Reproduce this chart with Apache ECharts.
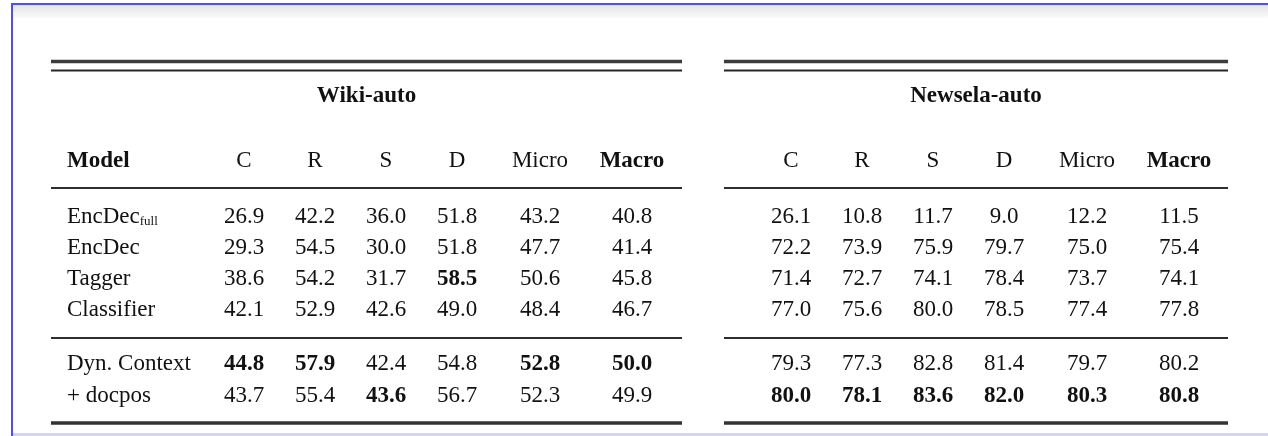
<!DOCTYPE html>
<html><head><meta charset="utf-8">
<script src="https://cdn.jsdelivr.net/npm/echarts@6/dist/echarts.min.js"></script>
<style>html,body{margin:0;padding:0;background:#fff;overflow:hidden}#c{width:1268px;height:436px}</style>
</head><body><div id="c"></div>
<script>
// ---- data ----
const datasets = ['Wiki-auto', 'Newsela-auto'];
const metrics = ['C', 'R', 'S', 'D', 'Micro', 'Macro'];
const boldMetrics = ['Macro'];
const models = ['EncDec_full', 'EncDec', 'Tagger', 'Classifier', 'Dyn. Context', '+ docpos'];
const wikiValues = [
  [26.9, 42.2, 36.0, 51.8, 43.2, 40.8],
  [29.3, 54.5, 30.0, 51.8, 47.7, 41.4],
  [38.6, 54.2, 31.7, 58.5, 50.6, 45.8],
  [42.1, 52.9, 42.6, 49.0, 48.4, 46.7],
  [44.8, 57.9, 42.4, 54.8, 52.8, 50.0],
  [43.7, 55.4, 43.6, 56.7, 52.3, 49.9]
];
const newselaValues = [
  [26.1, 10.8, 11.7, 9.0, 12.2, 11.5],
  [72.2, 73.9, 75.9, 79.7, 75.0, 75.4],
  [71.4, 72.7, 74.1, 78.4, 73.7, 74.1],
  [77.0, 75.6, 80.0, 78.5, 77.4, 77.8],
  [79.3, 77.3, 82.8, 81.4, 79.7, 80.2],
  [80.0, 78.1, 83.6, 82.0, 80.3, 80.8]
];
// bold cells as [row, col]
const wikiBold = [[2, 3], [4, 0], [4, 1], [4, 4], [4, 5], [5, 2]];
const newselaBold = [[5, 0], [5, 1], [5, 2], [5, 3], [5, 4], [5, 5]];

// ---- layout (pixels on a page-sized value scale) ----
const FONT = '"Liberation Serif", "Times New Roman", serif';
const FS = 23;
const tables = [
  { x0: 51, x1: 682, cols: [244, 315, 386, 457, 540, 632], values: wikiValues, bold: wikiBold },
  { x0: 724, x1: 1228, cols: [791, 862, 933, 1004, 1087, 1179], values: newselaValues, bold: newselaBold }
];
const modelX = 67;
const titleY = 96, headerY = 161;
const rowY = [217, 248, 279, 310, 364, 396];
const rules = [ // [y, lineWidth, color]
  [61.5, 3.5, '#3c3c3c'], [70.5, 2, '#262626'], [188, 2.2, '#2e2e2e'], [338, 2.2, '#2e2e2e'], [423, 3.5, '#333']
];
const TXT = '#111';

const texts = [];
function addText(x, y, text, opts) {
  texts.push({ value: [x, y], label: Object.assign({ formatter: text, align: 'center', fontWeight: 'normal' }, opts || {}) });
}
tables.forEach((t, ti) => {
  addText((t.x0 + t.x1) / 2, titleY, datasets[ti], { fontWeight: 'bold' });
  metrics.forEach((m, ci) => addText(t.cols[ci], headerY, m, { fontWeight: boldMetrics.includes(m) ? 'bold' : 'normal' }));
  t.values.forEach((row, ri) => row.forEach((v, ci) => {
    const b = t.bold.some(p => p[0] === ri && p[1] === ci);
    addText(t.cols[ci], rowY[ri], v.toFixed(1), { fontWeight: b ? 'bold' : 'normal' });
  }));
});
addText(modelX, headerY, 'Model', { align: 'left', fontWeight: 'bold' });
models.forEach((m, ri) => {
  const parts = m.split('_');
  const f = parts.length > 1 ? '{a|' + parts[0] + '}{s|' + parts[1] + '}' : m;
  addText(modelX, rowY[ri], f, { align: 'left' });
});

const ruleData = [];
tables.forEach(t => rules.forEach(r => ruleData.push([t.x0, t.x1, r[0], r[1], r[2]])));

const chart = echarts.init(document.getElementById('c'), null, { renderer: 'canvas' });
chart.setOption({
  animation: false,
  backgroundColor: '#fff',
  grid: { left: 0, right: 0, top: 0, bottom: 0 },
  xAxis: { type: 'value', min: 0, max: 1268, show: false },
  yAxis: { type: 'value', min: 0, max: 436, inverse: true, show: false },
  graphic: [
    { type: 'rect', shape: { x: 13, y: 5, width: 1255, height: 13 }, style: { fill: new echarts.graphic.LinearGradient(0, 0, 0, 1, [{ offset: 0, color: '#e4e4e4' }, { offset: 1, color: '#fbfbfb' }]) }, z: 1 },
    { type: 'rect', shape: { x: 11, y: 3, width: 1257, height: 2 }, style: { fill: '#4d4dff' }, z: 2 },
    { type: 'rect', shape: { x: 11, y: 3, width: 2, height: 433 }, style: { fill: '#4d4dff' }, z: 2 },
    { type: 'rect', shape: { x: 13, y: 433, width: 1255, height: 3 }, style: { fill: '#d4d4f4' }, z: 2 }
  ],
  series: [
    {
      type: 'custom',
      coordinateSystem: 'cartesian2d',
      data: ruleData,
      encode: { x: [0, 1], y: 2 },
      renderItem: function (params, api) {
        const a = api.coord([api.value(0), api.value(2)]);
        const b = api.coord([api.value(1), api.value(2)]);
        const d = ruleData[params.dataIndex];
        return { type: 'line', shape: { x1: a[0], y1: a[1], x2: b[0], y2: b[1] }, style: { stroke: d[4], lineWidth: d[3] } };
      },
      silent: true
    },
    {
      type: 'scatter',
      data: texts,
      symbolSize: 1,
      itemStyle: { color: 'rgba(0,0,0,0)' },
      silent: true,
      label: {
        show: true, position: 'inside', color: TXT, fontFamily: FONT, fontSize: FS, verticalAlign: 'middle',
        textBorderWidth: 0, textShadowBlur: 0, opacity: 1,
        rich: {
          a: { fontFamily: FONT, fontSize: FS, color: TXT, textBorderWidth: 0 },
          s: { fontFamily: FONT, fontSize: 13, color: TXT, textBorderWidth: 0, padding: [10, 0, 0, 0] }
        }
      }
    }
  ]
});
</script></body></html>
